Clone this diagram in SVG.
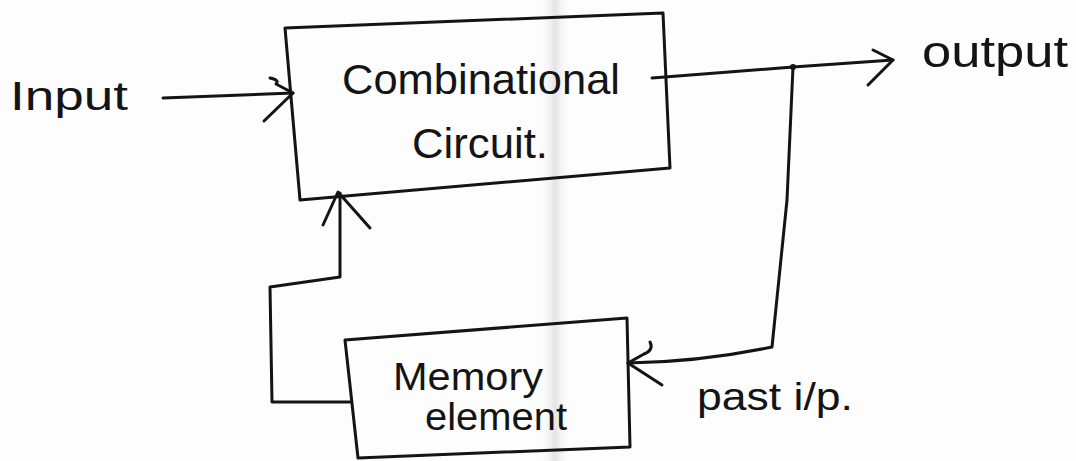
<svg xmlns="http://www.w3.org/2000/svg" width="1076" height="461" viewBox="0 0 1076 461">
  <defs>
    <linearGradient id="fold" x1="0" y1="0" x2="1" y2="0">
      <stop offset="0" stop-color="#ffffff" stop-opacity="0"/>
      <stop offset="0.5" stop-color="#d9d9d9" stop-opacity="0.7"/>
      <stop offset="1" stop-color="#ffffff" stop-opacity="0"/>
    </linearGradient>
  </defs>
  <style>
    .ink { fill: none; stroke: #141414; stroke-width: 3; stroke-linecap: round; stroke-linejoin: round; }
    .lbl { font-family: "Liberation Sans", "DejaVu Sans", sans-serif; fill: #141414; }
  </style>

  <!-- paper -->
  <rect x="0" y="0" width="1076" height="461" fill="#fdfdfd"/>
  <rect x="538" y="0" width="34" height="461" fill="url(#fold)"/>

  <!-- combinational circuit block -->
  <g id="combinational">
    <path class="ink" d="M285,28 L663,13 L670,168 L300,200 Z"/>
    <text class="lbl" x="342" y="94" font-size="42" textLength="278" lengthAdjust="spacingAndGlyphs">Combinational</text>
    <text class="lbl" x="412" y="158" font-size="42" textLength="136" lengthAdjust="spacingAndGlyphs">Circuit.</text>
  </g>

  <!-- memory element block -->
  <g id="memory">
    <path class="ink" d="M345,340 L627,318 L630,447 L358,458 Z"/>
    <text class="lbl" x="393" y="390" font-size="38" textLength="150" lengthAdjust="spacingAndGlyphs">Memory</text>
    <text class="lbl" x="425" y="430" font-size="38" textLength="142" lengthAdjust="spacingAndGlyphs">element</text>
  </g>

  <!-- free labels -->
  <g id="input-label">
    <text class="lbl" x="10" y="110" font-size="40" textLength="118" lengthAdjust="spacingAndGlyphs">Input</text>
  </g>
  <g id="output-label">
    <text class="lbl" x="922" y="67" font-size="44" textLength="146" lengthAdjust="spacingAndGlyphs">output</text>
  </g>
  <g id="past-label">
    <text class="lbl" x="697" y="410" font-size="38" textLength="156" lengthAdjust="spacingAndGlyphs">past i/p.</text>
  </g>

  <!-- connectors -->
  <g id="connectors">
    <!-- input into combinational block -->
    <path class="ink" d="M163,98 L293,93"/>
    <path class="ink" d="M270,78 Q280,80 276,84 L293,93 L264,121"/>

    <!-- output from combinational block -->
    <path class="ink" d="M652,78 L793,67 L893,60"/>
    <path class="ink" d="M873,50 L893,60 L868,85"/>
    <circle cx="793" cy="67" r="3" fill="#141414"/>

    <!-- feedback of output into memory element -->
    <path class="ink" d="M793,67 L787,200 L772,347 Q700,362 628,363"/>
    <path class="ink" d="M650,342 Q654,350 644,354 L628,363 L662,385"/>

    <!-- memory element back into combinational block -->
    <path class="ink" d="M350,402 L272,402 L270,287 L340,277 L340,193"/>
    <path class="ink" d="M323,225 L338,192 L370,228"/>
  </g>
</svg>
